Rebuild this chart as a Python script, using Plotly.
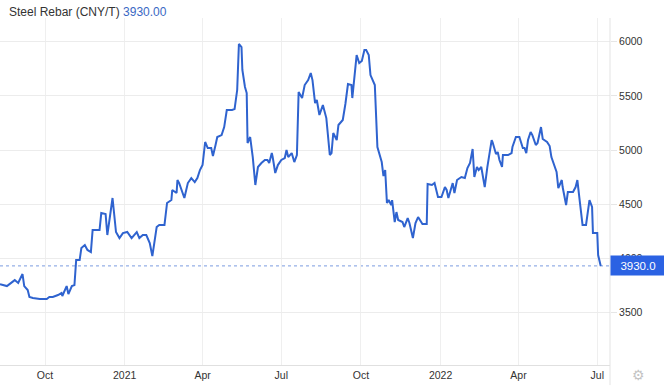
import plotly.graph_objects as go

dates = [
    "2020-08-10", "2020-08-18", "2020-08-21", "2020-08-27", "2020-08-31", "2020-09-05", "2020-09-07",
    "2020-09-11", "2020-09-13", "2020-09-17", "2020-09-25", "2020-10-03", "2020-10-06", "2020-10-10",
    "2020-10-16", "2020-10-20", "2020-10-21", "2020-10-26", "2020-10-28", "2020-11-01", "2020-11-04",
    "2020-11-06", "2020-11-10", "2020-11-12", "2020-11-16", "2020-11-19", "2020-11-23", "2020-11-25",
    "2020-12-03", "2020-12-05", "2020-12-10", "2020-12-12", "2020-12-18", "2020-12-20", "2020-12-22",
    "2020-12-26", "2020-12-30", "2021-01-04", "2021-01-09", "2021-01-15", "2021-01-18", "2021-01-22",
    "2021-01-26", "2021-01-30", "2021-02-02", "2021-02-07", "2021-02-10", "2021-02-16", "2021-02-19",
    "2021-02-24", "2021-02-25", "2021-03-02", "2021-03-03", "2021-03-05", "2021-03-09", "2021-03-11",
    "2021-03-15", "2021-03-19", "2021-03-23", "2021-03-26", "2021-03-29", "2021-04-01", "2021-04-04",
    "2021-04-07", "2021-04-11", "2021-04-13", "2021-04-16", "2021-04-18", "2021-04-23", "2021-04-26",
    "2021-04-29", "2021-05-05", "2021-05-08", "2021-05-11", "2021-05-13", "2021-05-16", "2021-05-17",
    "2021-05-20", "2021-05-22", "2021-05-23", "2021-05-26", "2021-05-29", "2021-06-01", "2021-06-04",
    "2021-06-08", "2021-06-12", "2021-06-15", "2021-06-17", "2021-06-20", "2021-06-21", "2021-06-24",
    "2021-06-27", "2021-07-01", "2021-07-05", "2021-07-07", "2021-07-09", "2021-07-13", "2021-07-16",
    "2021-07-19", "2021-07-21", "2021-07-25", "2021-07-28", "2021-08-01", "2021-08-04", "2021-08-06",
    "2021-08-09", "2021-08-11", "2021-08-14", "2021-08-18", "2021-08-22", "2021-08-26", "2021-08-28",
    "2021-08-30", "2021-09-03", "2021-09-05", "2021-09-10", "2021-09-13", "2021-09-16", "2021-09-20",
    "2021-09-21", "2021-09-26", "2021-09-29", "2021-10-02", "2021-10-05", "2021-10-07", "2021-10-10",
    "2021-10-12", "2021-10-14", "2021-10-16", "2021-10-17", "2021-10-20", "2021-10-25", "2021-10-27",
    "2021-10-29", "2021-10-31", "2021-11-02", "2021-11-05", "2021-11-06", "2021-11-09", "2021-11-11",
    "2021-11-13", "2021-11-18", "2021-11-20", "2021-11-24", "2021-11-26", "2021-11-30", "2021-12-03",
    "2021-12-06", "2021-12-11", "2021-12-16", "2021-12-17", "2021-12-22", "2021-12-25", "2021-12-29",
    "2022-01-02", "2022-01-06", "2022-01-08", "2022-01-10", "2022-01-15", "2022-01-17", "2022-01-20",
    "2022-01-25", "2022-01-29", "2022-02-01", "2022-02-04", "2022-02-07", "2022-02-09", "2022-02-12",
    "2022-02-14", "2022-02-17", "2022-02-21", "2022-02-24", "2022-03-01", "2022-03-02", "2022-03-06",
    "2022-03-08", "2022-03-10", "2022-03-13", "2022-03-14", "2022-03-20", "2022-03-24", "2022-03-25",
    "2022-03-29", "2022-04-02", "2022-04-06", "2022-04-08", "2022-04-10", "2022-04-12", "2022-04-15",
    "2022-04-17", "2022-04-21", "2022-04-23", "2022-04-27", "2022-04-29", "2022-05-04", "2022-05-07",
    "2022-05-09", "2022-05-15", "2022-05-17", "2022-05-21", "2022-05-22", "2022-05-26", "2022-05-28",
    "2022-06-03", "2022-06-06", "2022-06-08", "2022-06-11", "2022-06-14", "2022-06-18", "2022-06-20",
    "2022-06-22", "2022-06-25", "2022-06-26", "2022-07-01", "2022-07-02", "2022-07-05",
]

prices = [
    3762, 3744, 3762, 3799, 3772, 3855, 3744,
    3707, 3643, 3633, 3624, 3624, 3643, 3643,
    3661, 3679, 3652, 3744, 3670, 3744, 3753,
    3984, 3984, 4095, 4123, 4077, 4058, 4261,
    4261, 4418, 4409, 4215, 4557, 4418, 4243,
    4187, 4233, 4243, 4187, 4243, 4187, 4215,
    4215, 4141, 4021, 4289, 4308, 4308, 4511,
    4538, 4631, 4603, 4723, 4695, 4612, 4557,
    4695, 4741, 4704, 4741, 4815, 4861, 5074,
    5018, 5018, 4944, 5046, 5120, 5138, 5212,
    5369, 5369, 5378, 5554, 5979, 5951, 5739,
    5582, 5526, 5065, 5120, 4935, 4677, 4843,
    4880, 4908, 4908, 4880, 4972, 4935, 4788,
    4861, 4908, 4926, 5000, 4935, 4972, 4889,
    4954, 5535, 5480, 5600, 5646, 5711, 5646,
    5434, 5462, 5323, 5415, 5295, 4954, 4972,
    5157, 5092, 5231, 5277, 5425, 5609, 5600,
    5480, 5877, 5803, 5822, 5923, 5923, 5877,
    5692, 5656, 5619, 5600, 5028, 4889, 4760,
    4815, 4511, 4538, 4492, 4538, 4335, 4427,
    4354, 4335, 4289, 4372, 4326, 4187, 4326,
    4381, 4317, 4317, 4686, 4677, 4695, 4566,
    4566, 4658, 4631, 4557, 4695, 4603, 4723,
    4751, 4741, 4834, 4880, 5009, 4751, 4843,
    4815, 4843, 4658, 4843, 5092, 5074, 4963,
    4981, 4908, 4843, 4954, 4954, 4972, 5028,
    5120, 5120, 5018, 5018, 4972, 5092, 5166,
    5138, 5046, 5065, 5212, 5102, 5074, 5037,
    4935, 4797, 4649, 4723, 4658, 4492, 4612,
    4612, 4658, 4723, 4511, 4308, 4308, 4446,
    4538, 4474, 4233, 4233, 4030, 3930,
]

tick_dates = ["2020-10-01", "2021-01-01", "2021-04-01", "2021-07-01",
              "2021-10-01", "2022-01-01", "2022-04-01", "2022-07-01"]
tick_labels = ["Oct", "2021", "Apr", "Jul", "Oct", "2022", "Apr", "Jul"]
y_ticks = [3500, 4000, 4500, 5000, 5500, 6000]

last_value = 3930.0
title_text = "Steel Rebar (CNY/T)"

LINE = "#2f63cf"
BOX = "#2b62e3"
FONT = "Liberation Sans, Arial, sans-serif"

fig = go.Figure()
fig.add_trace(go.Scatter(
    x=dates, y=prices, mode="lines",
    line=dict(color=LINE, width=2),
    hoverinfo="x+y", showlegend=False,
))

fig.add_shape(type="line", xref="paper", x0=0, x1=1, yref="y", y0=last_value, y1=last_value,
              line=dict(color="#7b9be0", width=1, dash="dot"), layer="below")
fig.add_shape(type="line", xref="paper", x0=1, x1=1, yref="paper", y0=-0.058, y1=1,
              line=dict(color="#e3e3e3", width=1))

fig.add_annotation(xref="paper", yref="paper", x=0.012, y=1.016, xanchor="left", yanchor="middle",
                   text=f"{title_text} <span style='color:#3a68c4'>{last_value:.2f}</span>",
                   showarrow=False, font=dict(family=FONT, size=12, color="#333333"))
fig.add_annotation(xref="paper", yref="y", x=1, y=last_value, xanchor="left", yanchor="middle",
                   text=f"{last_value:.1f}", showarrow=False, bgcolor=BOX,
                   width=50, height=15, borderpad=2, align="center",
                   font=dict(family=FONT, size=11.5, color="white"))
fig.add_annotation(xref="paper", yref="paper", x=1.046, y=-0.03, xanchor="center", yanchor="middle",
                   text="⚙", showarrow=False, font=dict(family="DejaVu Sans", size=14, color="#c4c4c4"))

fig.update_layout(
    width=664, height=391,
    margin=dict(l=0, r=54, t=18, b=26),
    paper_bgcolor="white", plot_bgcolor="white",
    font=dict(family=FONT, size=10.5, color="#333333"),
    xaxis=dict(
        type="date", range=["2020-08-10", "2022-07-15 17:00"],
        tickvals=tick_dates, ticktext=tick_labels,
        showgrid=True, gridcolor="#efefef", gridwidth=1,
        showline=True, linecolor="#e0e0e0", linewidth=1,
        ticks="", zeroline=False, fixedrange=True,
    ),
    yaxis=dict(
        side="right", range=[3015, 6219], tickvals=y_ticks,
        showgrid=True, gridcolor="#ececec", gridwidth=1,
        ticks="outside", ticklen=6, tickcolor="#e6e6e6",
        showline=False, zeroline=False, fixedrange=True,
    ),
)

fig.write_html("out.html")
